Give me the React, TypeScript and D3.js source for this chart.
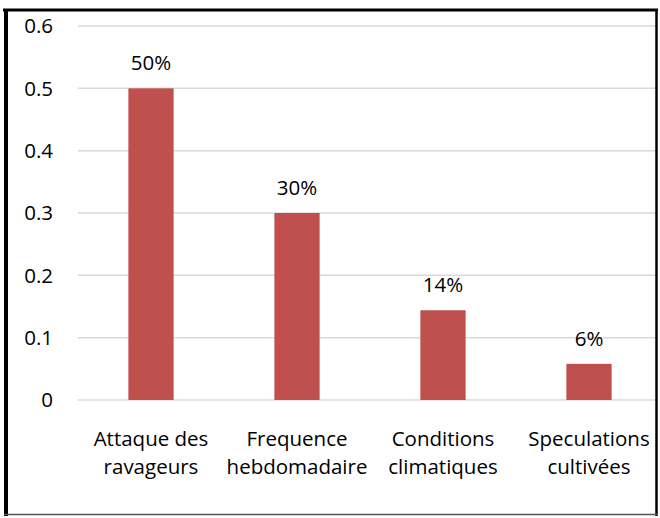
import * as d3 from "d3";

const categories = [
  ["Attaque des", "ravageurs"],
  ["Frequence", "hebdomadaire"],
  ["Conditions", "climatiques"],
  ["Speculations", "cultivées"],
];
const values = [0.5, 0.3, 0.144, 0.058];
const valueLabels = ["50%", "30%", "14%", "6%"];
const yTicks = [0, 0.1, 0.2, 0.3, 0.4, 0.5, 0.6];

const W = 660;
const H = 518;
const FONT = "'Open Sans', 'Noto Sans', sans-serif";
const FS = 20.5;

export default function App() {
  const x = d3
    .scaleBand<number>()
    .domain(d3.range(categories.length))
    .range([78, 662])
    .paddingInner(0.69)
    .paddingOuter(0.345);
  const y = d3.scaleLinear().domain([0, 0.6]).range([400, 26]);

  return (
    <svg
      width={W}
      height={H}
      style={{ position: "absolute", left: 0, top: 0, background: "#fff" }}
    >
      {/* gridlines */}
      {yTicks.map((t) => (
        <line
          key={t}
          x1={78}
          x2={656}
          y1={y(t)}
          y2={y(t)}
          stroke="#d9d9d9"
          strokeWidth={1.5}
        />
      ))}
      {/* y tick labels */}
      {yTicks.map((t) => (
        <text
          key={"l" + t}
          x={53}
          y={y(t)}
          dy="0.36em"
          textAnchor="end"
          fontFamily={FONT}
          fontSize={FS}
          fill="#000"
        >
          {d3.format("")(t)}
        </text>
      ))}
      {/* bars */}
      {values.map((v, i) => (
        <rect
          key={i}
          x={x(i)}
          y={y(v)}
          width={x.bandwidth()}
          height={y(0) - y(v)}
          fill="#c0504d"
        />
      ))}
      {/* value labels */}
      {values.map((v, i) => (
        <text
          key={"v" + i}
          x={(x(i) ?? 0) + x.bandwidth() / 2}
          y={y(v) - 18}
          textAnchor="middle"
          fontFamily={FONT}
          fontSize={FS}
          fill="#000"
        >
          {valueLabels[i]}
        </text>
      ))}
      {/* category labels, two lines each */}
      {categories.map((lines, i) =>
        lines.map((ln, j) => (
          <text
            key={"c" + i + "-" + j}
            x={(x(i) ?? 0) + x.bandwidth() / 2}
            y={446 + j * 28}
            textAnchor="middle"
            fontFamily={FONT}
            fontSize={FS}
            fill="#000"
          >
            {ln}
          </text>
        ))
      )}
      {/* frame */}
      <line x1={3} x2={658} y1={10} y2={10} stroke="#000" strokeWidth={3} />
      <line x1={6} x2={6} y1={9} y2={516} stroke="#000" strokeWidth={4} />
      <line x1={656.5} x2={656.5} y1={9} y2={516} stroke="#000" strokeWidth={2.5} />
      <line x1={4} x2={658} y1={514.5} y2={514.5} stroke="#555" strokeWidth={1.5} />
    </svg>
  );
}
